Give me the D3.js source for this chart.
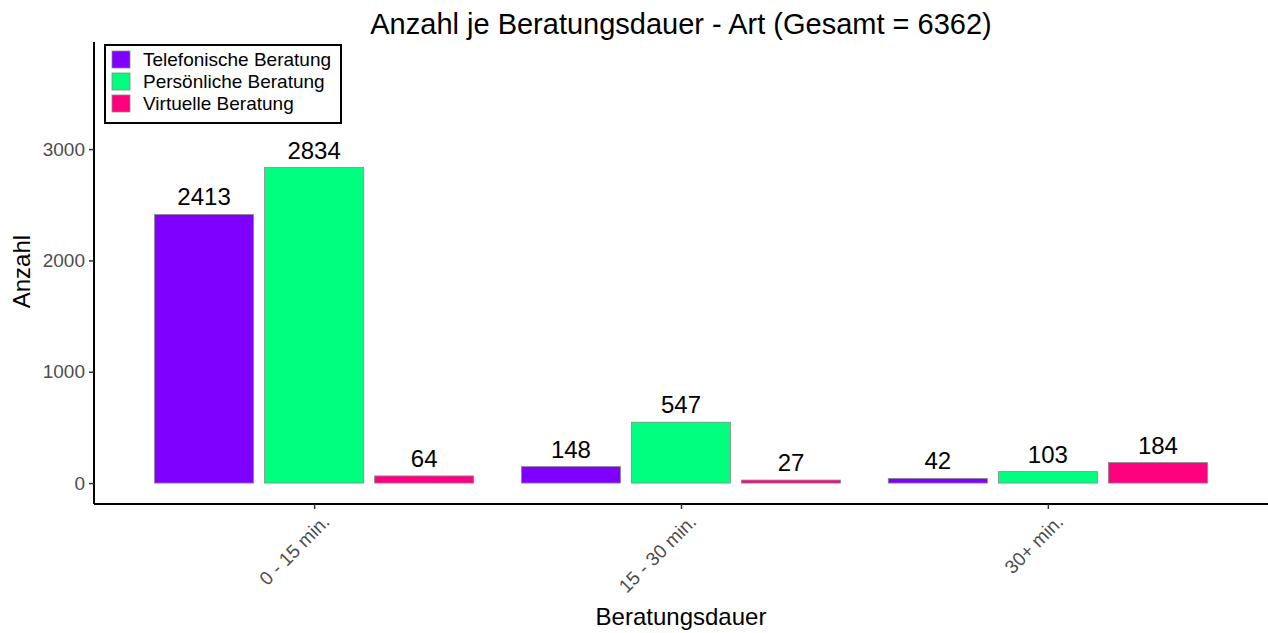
<!DOCTYPE html>
<html lang="de">
<head>
<meta charset="UTF-8">
<title>Anzahl je Beratungsdauer - Art</title>
<script src="https://d3js.org/d3.v7.min.js"></script>
<style>
  body { margin: 0; background: #fff; }
  svg { display: block; font-family: "Liberation Sans", Arial, sans-serif; }
</style>
</head>
<body>
<svg id="chart" width="1268" height="633"></svg>
<script>
// data
const categories = ["0 - 15 min.", "15 - 30 min.", "30+ min."];
const seriesNames = ["Telefonische Beratung", "Persönliche Beratung", "Virtuelle Beratung"];
const telefonisch = [2413, 148, 42];
const persoenlich = [2834, 547, 103];
const virtuell = [64, 27, 184];
const yTicks = [0, 1000, 2000, 3000];
const colors = ["#7F00FF", "#00FF7F", "#FF007F"];

const series = [telefonisch, persoenlich, virtuell];
const total = d3.sum(series.flat());

const svg = d3.select("#chart");
const margin = { top: 42, right: 0, bottom: 129, left: 94 };
const W = 1268, H = 633;
const innerW = W - margin.left - margin.right;
const innerH = H - margin.top - margin.bottom;

const g = svg.append("g").attr("transform", `translate(${margin.left},${margin.top})`);

// discrete scale, 0.6 step of padding on each side (like ggplot)
const x = d3.scalePoint().domain(categories).range([0, innerW]).padding(0.6);
const step = x.step();
const slot = step * 0.9 / 3;
const barW = slot * 0.9;

const y = d3.scaleLinear().domain([-188, 3962]).range([innerH, 0]);

// bars + value labels
series.forEach((vals, si) => {
  g.selectAll(".bar" + si)
    .data(vals)
    .enter()
    .append("rect")
    .attr("x", (d, i) => x(categories[i]) + (si - 1) * slot - barW / 2)
    .attr("width", barW)
    .attr("y", d => y(d))
    .attr("height", d => y(0) - y(d))
    .attr("fill", colors[si])
    .attr("stroke", "#8a8a8a")
    .attr("stroke-width", 0.8);

  g.selectAll(".lab" + si)
    .data(vals)
    .enter()
    .append("text")
    .attr("x", (d, i) => x(categories[i]) + (si - 1) * slot)
    .attr("y", d => y(d) - 9)
    .attr("text-anchor", "middle")
    .attr("font-size", 24)
    .attr("fill", "#000")
    .text(d => d);
});

// y axis
const yAxis = g.append("g")
  .call(d3.axisLeft(y).tickValues(yTicks).tickSize(5).tickPadding(4).tickFormat(d3.format("d")));
yAxis.select(".domain").attr("d", `M0,0V${innerH}`).attr("stroke", "#000").attr("stroke-width", 2);
yAxis.selectAll(".tick line").attr("stroke", "#333").attr("stroke-width", 1.5);
yAxis.selectAll(".tick text").attr("font-size", 19).attr("fill", "#4d4d4d").attr("font-family", null);

// x axis
const xAxis = g.append("g")
  .attr("transform", `translate(0,${innerH})`)
  .call(d3.axisBottom(x).tickSize(5).tickFormat(d => d));
xAxis.select(".domain").attr("d", `M0,0H${innerW}`).attr("stroke", "#000").attr("stroke-width", 2);
xAxis.selectAll(".tick line").attr("stroke", "#333").attr("stroke-width", 1.5);
xAxis.selectAll(".tick text")
  .attr("font-size", 19)
  .attr("fill", "#4d4d4d")
  .attr("font-family", null)
  .attr("text-anchor", "end")
  .attr("transform", "translate(6,9) rotate(-45)")
  .attr("dy", "0.75em")
  .attr("y", 0)
  .attr("x", 0);

// titles
svg.append("text")
  .attr("x", margin.left + innerW / 2)
  .attr("y", 34)
  .attr("text-anchor", "middle")
  .attr("font-size", 29)
  .text(`Anzahl je Beratungsdauer - Art (Gesamt = ${total})`);

svg.append("text")
  .attr("x", margin.left + innerW / 2)
  .attr("y", 625)
  .attr("text-anchor", "middle")
  .attr("font-size", 24)
  .text("Beratungsdauer");

svg.append("text")
  .attr("transform", `translate(30,${margin.top + y(1900)}) rotate(-90)`)
  .attr("text-anchor", "middle")
  .attr("font-size", 24)
  .text("Anzahl");

// legend
const legend = svg.append("g").attr("transform", "translate(105,45)");
legend.append("rect")
  .attr("width", 236).attr("height", 78)
  .attr("fill", "#fff").attr("stroke", "#000").attr("stroke-width", 2);
seriesNames.forEach((name, i) => {
  const row = legend.append("g").attr("transform", `translate(7,${6 + i * 22})`);
  row.append("rect").attr("width", 18).attr("height", 17)
    .attr("fill", colors[i]).attr("stroke", "#8a8a8a").attr("stroke-width", 0.8);
  row.append("text").attr("x", 31).attr("y", 15).attr("font-size", 19).text(name);
});
</script>
</body>
</html>
